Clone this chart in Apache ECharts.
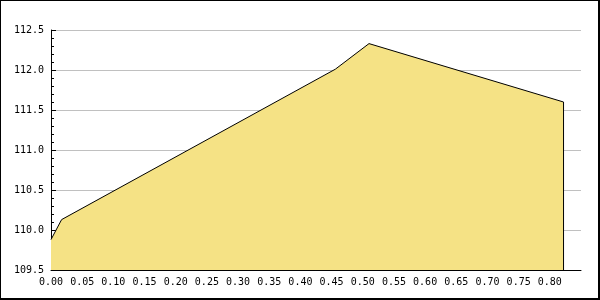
<!DOCTYPE html>
<html>
<head>
<meta charset="utf-8">
<script src="https://cdn.jsdelivr.net/npm/echarts@6/dist/echarts.min.js"></script>
<style>
html,body{margin:0;padding:0;background:#fff;}
#wrap{position:relative;width:600px;height:300px;}
#chart{position:absolute;left:0;top:0;width:600px;height:300px;}
#frame{position:absolute;left:0;top:0;width:600px;height:300px;box-sizing:border-box;border-left:1px solid #000;border-top:1px solid #000;border-right:2px solid #000;border-bottom:2px solid #000;pointer-events:none;}
</style>
</head>
<body>
<div id="wrap"><div id="chart"></div><div id="frame"></div></div>
<script>
var xValues = [0, 0.017, 0.456, 0.51, 0.822];
var yValues = [109.88, 110.13, 112.01, 112.33, 111.60];
var xTicks = [0, 0.05, 0.10, 0.15, 0.20, 0.25, 0.30, 0.35, 0.40, 0.45, 0.50, 0.55, 0.60, 0.65, 0.70, 0.75, 0.80];
var yTicks = [109.5, 110.0, 110.5, 111.0, 111.5, 112.0, 112.5];
var xMax = 0.85;

var yMin = yTicks[0], yMax = yTicks[yTicks.length - 1];
var data = xValues.map(function (x, i) { return [x, yValues[i]]; });
var last = data.length - 1;
var edge = [[xValues[last], yValues[last]], [xValues[last], yMin]];
var font = 'DejaVu Sans Mono';

var chart = echarts.init(document.getElementById('chart'), null, {renderer: 'canvas'});
chart.setOption({
  animation: false,
  grid: {left: 51, right: 19, top: 30, bottom: 30, containLabel: false},
  xAxis: {
    type: 'value', min: 0, max: xMax, interval: 0.05,
    axisLine: {show: true, lineStyle: {color: '#000', width: 1}},
    axisTick: {show: true, inside: true, length: 5, lineStyle: {color: '#000'}, customValues: xTicks},
    axisLabel: {color: '#000', fontFamily: font, fontSize: 10, margin: 7, customValues: xTicks,
      formatter: function (v) { return v.toFixed(2); }},
    splitLine: {show: false}
  },
  yAxis: {
    type: 'value', min: yMin, max: yMax, interval: 0.5,
    axisLine: {show: true, lineStyle: {color: '#000', width: 1}},
    axisTick: {show: true, inside: true, length: 5, lineStyle: {color: '#000'}},
    minorTick: {show: true, splitNumber: 5, length: 3, lineStyle: {color: '#000'}},
    axisLabel: {color: '#000', fontFamily: font, fontSize: 10, margin: 7,
      formatter: function (v) { return v.toFixed(1); }},
    splitLine: {show: true, lineStyle: {color: '#c0c0c0', width: 1}}
  },
  series: [{
    type: 'line', data: data, symbol: 'none', z: 1,
    lineStyle: {color: '#000', width: 1},
    areaStyle: {color: '#f5e285', opacity: 1, origin: 'start'}
  }, {
    type: 'line', data: edge, symbol: 'none', z: 2,
    lineStyle: {color: '#000', width: 1}
  }]
});
</script>
</body>
</html>
